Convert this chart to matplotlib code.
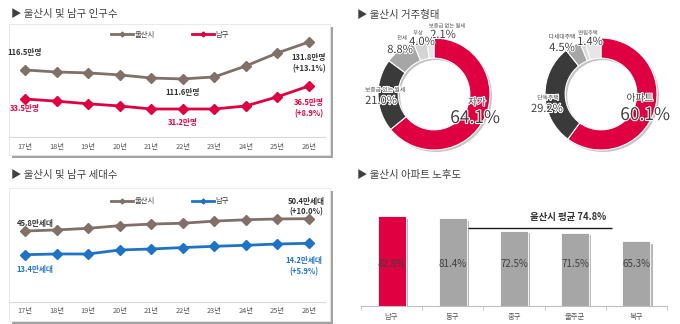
import matplotlib
matplotlib.use('Agg')
import matplotlib.pyplot as plt
from matplotlib import patheffects as pe
from matplotlib.patches import Rectangle

plt.rcParams['font.family'] = ['Noto Sans CJK KR', 'DejaVu Sans']

# data
years = ['17년', '18년', '19년', '20년', '21년', '22년', '23년', '24년', '25년', '26년']
ulsan_pop = [116.5, 115.4, 114.9, 113.8, 112.1, 111.6, 112.7, 118.7, 125.8, 131.8]
namgu_pop = [33.5, 33.0, 32.4, 31.9, 31.2, 31.2, 31.2, 31.9, 34.0, 36.5]
ulsan_hh = [45.8, 46.2, 46.8, 47.8, 48.4, 48.7, 49.5, 50.0, 50.3, 50.4]
namgu_hh = [13.4, 13.45, 13.45, 13.73, 13.8, 13.9, 13.99, 14.06, 14.15, 14.2]

tenure_labels = ['자가', '보증금 있는 월세', '전세', '무상', '보증금 없는 월세']
tenure_share = [64.1, 21.0, 8.8, 4.0, 2.1]
house_labels = ['아파트', '단독주택', '다세대주택', '연립주택', '기타']
house_share = [60.1, 29.2, 4.5, 1.4, 4.8]

districts = ['남구', '동구', '중구', '울주군', '북구']
apt_age = [82.8, 81.4, 72.5, 71.5, 65.3]
ulsan_avg = 74.8

# colours
RED = '#DE0040'
BROWN = '#807068'
BLUE = '#1F73C6'
TXT = '#404040'

W, H = 680, 324
fig = plt.figure(figsize=(6.8, 3.24), dpi=100)


def px_rect(l, t, r, b):
    return [l / W, 1 - b / H, (r - l) / W, (b - t) / H]


def box(l, t, r, b):
    rect = Rectangle((l / W, 1 - b / H), (r - l) / W, (b - t) / H,
                     transform=fig.transFigure, facecolor='white',
                     edgecolor='#e6e6e6', linewidth=0.6, zorder=-1)
    rect.set_path_effects([pe.SimplePatchShadow(offset=(2, -2),
                                                shadow_rgbFace='#8c8c8c',
                                                alpha=0.8), pe.Normal()])
    fig.patches.append(rect)


def title(x, y, s):
    fig.text(x / W, 1 - y / H, '▶ ' + s, fontsize=7.5, color=TXT,
             va='center', ha='left')


def px_pt(dx, dy):
    # pixel offset (down positive) -> points
    return (dx * 0.72, -dy * 0.72)


def line_panel(rect, s1, s2, c2, lim1, lim2, leg_y, labels, xpad):
    ax1 = fig.add_axes(px_rect(*rect))
    ax2 = ax1.twinx()
    x = list(range(len(years)))
    l1, = ax1.plot(x, s1, color=BROWN, lw=2, marker='D', ms=5)
    l2, = ax2.plot(x, s2, color=c2, lw=2, marker='D', ms=5)
    ax1.set_xlim(-0.5, len(years) - 0.5)
    ax1.set_ylim(*lim1)
    ax2.set_ylim(*lim2)
    for a in (ax1, ax2):
        a.patch.set_visible(False)
        for s in a.spines.values():
            s.set_visible(False)
        a.set_yticks([])
    ax1.spines['bottom'].set_visible(True)
    ax1.spines['bottom'].set_color('#d9d9d9')
    ax1.set_xticks(x, years)
    ax1.tick_params(axis='x', length=0, labelsize=5.3, labelcolor='#595959',
                    pad=xpad)
    ax2.legend([l1, l2], ['울산시', '남구'], ncol=2, frameon=False,
               loc='center', bbox_to_anchor=(0.51, leg_y), fontsize=5.3,
               numpoints=1, markerscale=0.5, handlelength=3,
               handletextpad=0.2, columnspacing=5, labelcolor=TXT)
    for which, i, text, dx, dy in labels:
        a, s, col = (ax1, s1, '#333333') if which == 1 else (ax2, s2, c2)
        a.annotate(text, (i, s[i]), xytext=px_pt(dx, dy),
                   textcoords='offset points', ha='center', va='center',
                   fontsize=5.5, fontweight='bold', color=col,
                   linespacing=1.3)


# --- population
box(9, 24, 330, 155)
title(11, 14, '울산시 및 남구 인구수')
line_panel((9.2, 24, 324.8, 137), ulsan_pop, namgu_pop, RED,
           (79.9, 141.6), (24.76, 50.75), 0.905,
           [(1, 0, '116.5만명', 0, -17),
            (1, 5, '111.6만명', 0, 14),
            (1, 9, '131.8만명\n(+13.1%)', 0, 21),
            (2, 0, '33.5만명', 0, 9),
            (2, 5, '31.2만명', 0, 14),
            (2, 9, '36.5만명\n(+8.9%)', 0, 22)], 4.5)

# --- households
box(9, 188, 330, 321)
title(11, 175, '울산시 및 남구 세대수')
line_panel((9.2, 190, 324.8, 302), ulsan_hh, namgu_hh, BLUE,
           (19.25, 61.13), (10.08, 17.94), 0.9,
           [(1, 0, '45.8만세대', 10, -7),
            (1, 9, '50.4만세대\n(+10.0%)', -3, -12),
            (2, 0, '13.4만세대', 10, 15),
            (2, 9, '14.2만세대\n(+5.9%)', -5, 23)], 3.5)

# --- donuts
title(357, 15, '울산시 거주형태')
stroke = [pe.withStroke(linewidth=1.5, foreground='white')]


def donut(cx, cy, r, shares, colors, labels):
    pad = 1.06
    ax = fig.add_axes(px_rect(cx - r * pad, cy - r * pad,
                              cx + r * pad, cy + r * pad))
    ax.pie([1], colors=['#c4c4c4'], radius=1, center=(0.035, -0.035),
           wedgeprops=dict(width=0.36, linewidth=0))
    ax.pie(shares, colors=colors, startangle=90, counterclock=False,
           radius=1, wedgeprops=dict(width=0.36, edgecolor='white',
                                     linewidth=0.8))
    ax.set_xlim(-pad, pad)
    ax.set_ylim(-pad, pad)
    ax.set_aspect('equal')
    ax.axis('off')
    for text, dx, dy, fs in labels:
        ax.annotate(text, (0, 0), xytext=px_pt(dx, dy),
                    textcoords='offset points', ha='center', va='center',
                    fontsize=fs, color=TXT, path_effects=stroke,
                    annotation_clip=False)


donut(434, 94, 56, tenure_share,
      [RED, '#3a3a3a', '#a6a6a6', '#d4d4d4', '#e6e6e6'],
      [(tenure_labels[4], 13, -68, 3.8), (f'{tenure_share[4]}%', 9, -59, 8),
       (tenure_labels[3], -16, -61, 3.8), (f'{tenure_share[3]}%', -12, -52, 8),
       (tenure_labels[2], -32, -56, 3.8), (f'{tenure_share[2]}%', -34, -44, 8),
       (tenure_labels[1], -49, -4, 4.2), (f'{tenure_share[1]}%', -53, 7, 8),
       (tenure_labels[0], 43, 8, 7), (f'{tenure_share[0]}%', 41, 24, 12.5)])

donut(601, 94, 56, house_share,
      [RED, '#3a3a3a', '#a6a6a6', '#d9d9d9', '#e6e6e6'],
      [(house_labels[3], -13, -61, 3.8), (f'{house_share[3]}%', -11, -52, 8),
       (house_labels[2], -39, -57, 4.2), (f'{house_share[2]}%', -39, -46, 8),
       (house_labels[1], -53, 4, 4.2), (f'{house_share[1]}%', -54, 15, 8),
       (house_labels[0], 39, 4, 7), (f'{house_share[0]}%', 44, 21, 12.5)])

# --- apartment age bars
title(357, 175, '울산시 아파트 노후도')
ax = fig.add_axes(px_rect(361, 190, 667, 306))
xb = list(range(len(districts)))
bars = ax.bar(xb, apt_age, width=0.46,
              color=[RED] + ['#a6a6a6'] * (len(districts) - 1),
              edgecolor='white', linewidth=0.6)
for b in bars:
    b.set_path_effects([pe.SimplePatchShadow(offset=(1.5, -1.5),
                                             shadow_rgbFace='#9a9a9a',
                                             alpha=0.7), pe.Normal()])
ax.set_xlim(-0.5, len(districts) - 0.5)
ax.set_ylim(20.1, 101.3)
for i, v in enumerate(apt_age):
    ax.text(i, 0.36, f'{v}%', transform=ax.get_xaxis_transform(),
            ha='center', va='center', fontsize=7, color=TXT)
ax.hlines(ulsan_avg, 1.25, 3.6, color='#1a1a1a', lw=1)
ax.annotate(f'울산시 평균 {ulsan_avg}%', (2.88, ulsan_avg),
            xytext=(0, 7.5), textcoords='offset points', ha='center',
            va='center', fontsize=6.8, fontweight='bold', color='#333333')
for s in ('top', 'right', 'left'):
    ax.spines[s].set_visible(False)
ax.spines['bottom'].set_color('#bfbfbf')
ax.set_yticks([])
ax.set_xticks(xb, districts)
ax.set_xticks([i - 0.5 for i in range(len(districts) + 1)], minor=True)
ax.tick_params(axis='x', which='major', length=0, labelsize=5.3,
               labelcolor='#595959', pad=5)
ax.tick_params(axis='x', which='minor', length=3, color='#bfbfbf')
ax.patch.set_visible(False)

fig.savefig('out.png', dpi=100)
